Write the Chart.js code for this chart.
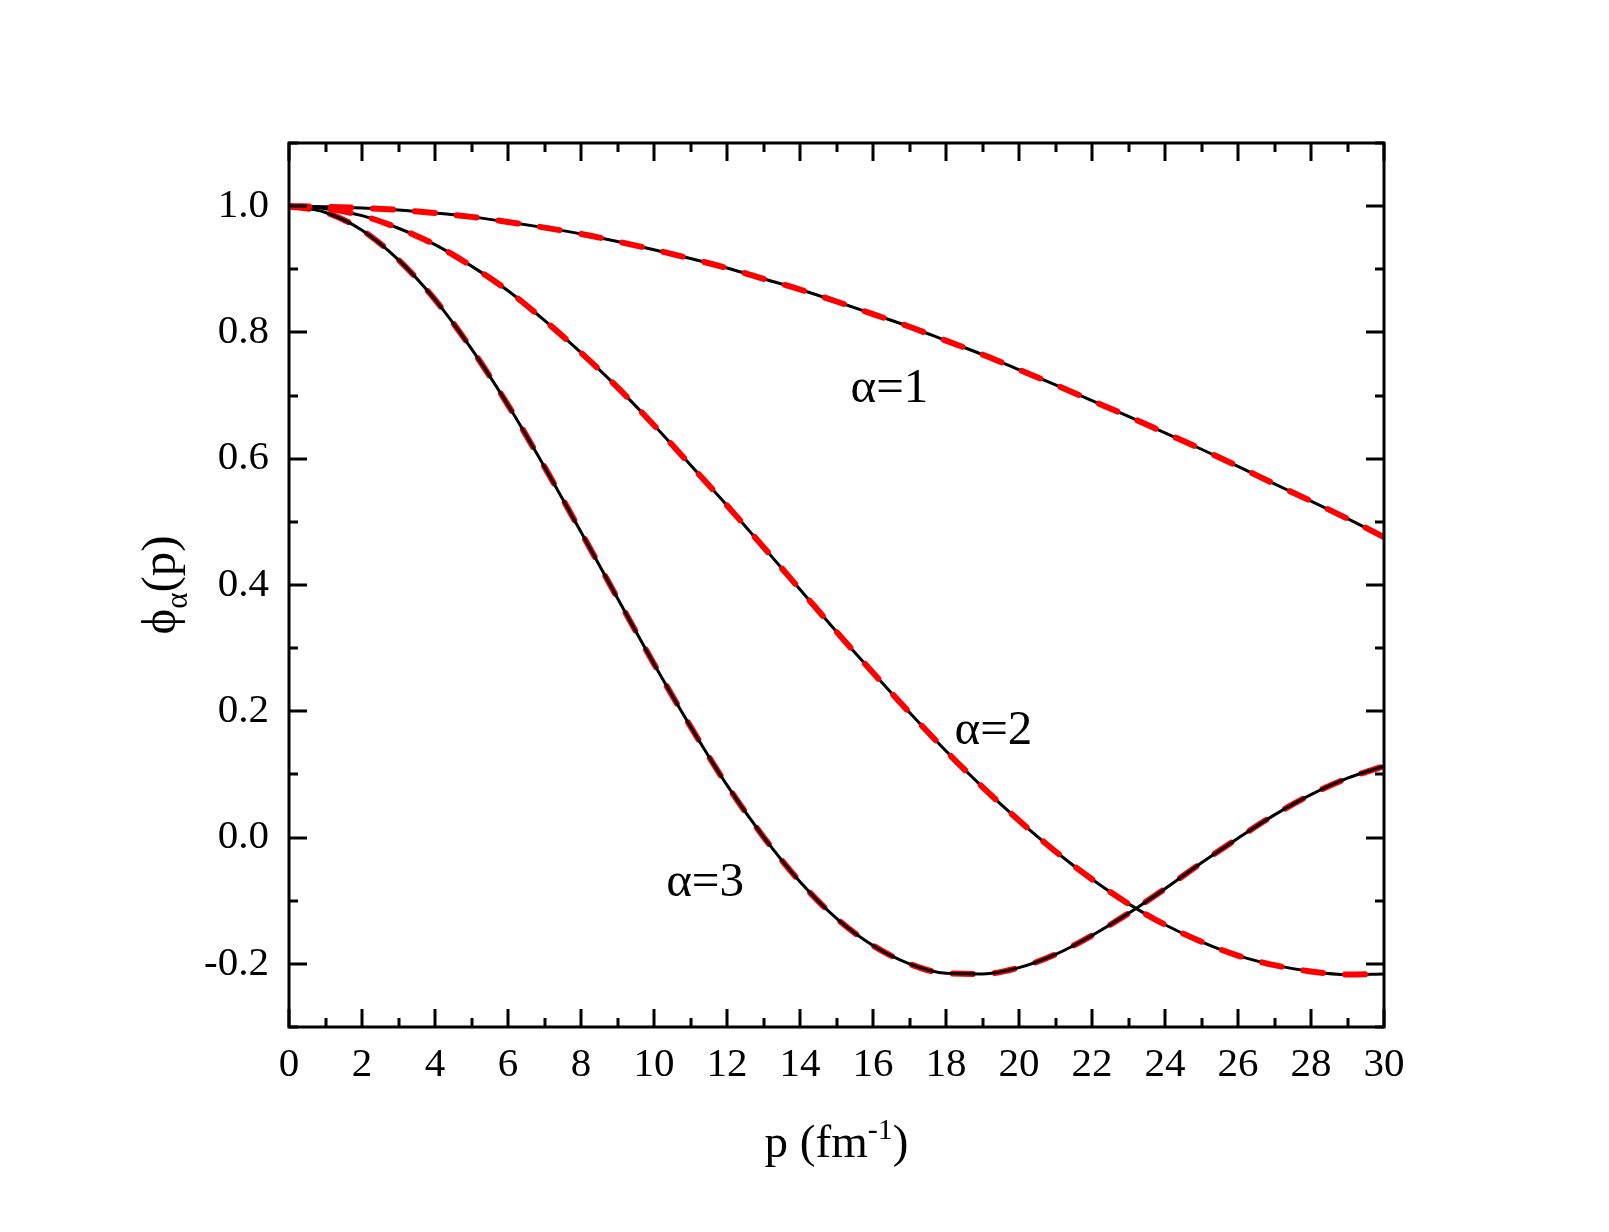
<!DOCTYPE html>
<html>
<head>
<meta charset="utf-8">
<script src="https://cdn.jsdelivr.net/npm/chart.js@4.4.1/dist/chart.umd.min.js"></script>
<style>
    html, body { margin: 0; padding: 0; background: #fff; }
    #wrap { width: 1609px; height: 1232px; }
</style>
</head>
<body>
<div id="wrap"><canvas id="phiChart" width="1609" height="1232"></canvas></div>
<script>
// momentum p (fm^-1)
const pValues = [0, 1, 2, 3, 4, 5, 6, 7, 8, 9, 10, 11, 12, 13, 14, 15, 16, 17, 18, 19, 20, 21, 22, 23, 24, 25, 26, 27, 28, 29, 30];

// phi_alpha(p)
const phiAlpha1 = [1.000, 0.999, 0.997, 0.994, 0.989, 0.983, 0.975, 0.966, 0.956, 0.944, 0.931, 0.917, 0.902, 0.885, 0.868, 0.849, 0.829, 0.809, 0.787, 0.765, 0.741, 0.717, 0.692, 0.667, 0.641, 0.615, 0.588, 0.560, 0.533, 0.505, 0.476];
const phiAlpha2 = [1.000, 0.996, 0.985, 0.965, 0.939, 0.905, 0.866, 0.819, 0.768, 0.713, 0.653, 0.590, 0.526, 0.460, 0.393, 0.326, 0.261, 0.198, 0.137, 0.080, 0.027, -0.022, -0.066, -0.105, -0.138, -0.165, -0.187, -0.202, -0.212, -0.217, -0.216];
const phiAlpha3 = [1.000, 0.990, 0.962, 0.915, 0.852, 0.774, 0.685, 0.587, 0.484, 0.379, 0.275, 0.176, 0.083, 0.001, -0.070, -0.128, -0.171, -0.200, -0.215, -0.216, -0.206, -0.185, -0.155, -0.120, -0.081, -0.040, -0.001, 0.036, 0.068, 0.094, 0.113];

const xTickValues = [0, 2, 4, 6, 8, 10, 12, 14, 16, 18, 20, 22, 24, 26, 28, 30];
const yTickValues = [-0.2, 0.0, 0.2, 0.4, 0.6, 0.8, 1.0];

const curveLabels = ['α=1', 'α=2', 'α=3'];

const serif = '"Liberation Serif", "Times New Roman", serif';

function toPoints(values) {
    return pValues.map((p, i) => ({ x: p, y: values[i] }));
}

const solid = (values) => ({
    data: toPoints(values),
    borderColor: '#000000',
    borderWidth: 3,
    pointRadius: 0,
    fill: false,
    cubicInterpolationMode: 'monotone'
});

const dashed = (values, width) => ({
    data: toPoints(values),
    borderColor: '#FF0000',
    borderWidth: width,
    borderDash: [20, 22],
    borderCapStyle: 'round',
    pointRadius: 0,
    fill: false,
    cubicInterpolationMode: 'monotone'
});

// frame with inward ticks on all four sides
const frameTicks = {
    id: 'frameTicks',
    afterDatasetsDraw(chart) {
        const { ctx, chartArea: a, scales: { x, y } } = chart;
        ctx.save();
        ctx.strokeStyle = '#000';
        ctx.lineWidth = 3;
        ctx.strokeRect(a.left, a.top, a.right - a.left, a.bottom - a.top);
        ctx.beginPath();
        for (let p = 0; p <= 30; p++) {
            const len = p % 2 === 0 ? 18 : 9;
            const px = Math.round(x.getPixelForValue(p));
            ctx.moveTo(px, a.bottom); ctx.lineTo(px, a.bottom - len);
            ctx.moveTo(px, a.top); ctx.lineTo(px, a.top + len);
        }
        for (let k = -3; k <= 11; k++) {
            const len = Math.abs(k) % 2 === 0 ? 18 : 9;
            const py = Math.round(y.getPixelForValue(k / 10));
            ctx.moveTo(a.left, py); ctx.lineTo(a.left + len, py);
            ctx.moveTo(a.right, py); ctx.lineTo(a.right - len, py);
        }
        ctx.stroke();
        ctx.restore();
    }
};

// axis titles with sub/superscripts and the curve labels
const annotations = {
    id: 'annotations',
    afterDraw(chart) {
        const { ctx, chartArea: a, scales: { x, y } } = chart;
        ctx.save();
        ctx.fillStyle = '#000';
        ctx.textBaseline = 'alphabetic';

        // x title: p (fm^-1)
        const big = '47px ' + serif, small = '30px ' + serif;
        ctx.font = big;
        const w1 = ctx.measureText('p (fm').width;
        const w3 = ctx.measureText(')').width;
        ctx.font = small;
        const w2 = ctx.measureText('-1').width;
        let cx = (a.left + a.right) / 2 - (w1 + w2 + w3) / 2;
        const by = 1157;
        ctx.textAlign = 'left';
        ctx.font = big; ctx.fillText('p (fm', cx, by); cx += w1;
        ctx.font = small; ctx.fillText('-1', cx, by - 18); cx += w2;
        ctx.font = big; ctx.fillText(')', cx, by);

        // y title: phi_alpha(p)
        ctx.save();
        ctx.translate(175, (a.top + a.bottom) / 2);
        ctx.rotate(-Math.PI / 2);
        const yb = '49px ' + serif, ys = '31px ' + serif;
        ctx.font = yb;
        const v1 = ctx.measureText('ϕ').width;
        const v3 = ctx.measureText('(p)').width;
        ctx.font = ys;
        const v2 = ctx.measureText('α').width;
        let tx = -(v1 + v2 + v3) / 2;
        ctx.font = yb; ctx.fillText('ϕ', tx, 0); tx += v1;
        ctx.font = ys; ctx.fillText('α', tx, 12); tx += v2;
        ctx.font = yb; ctx.fillText('(p)', tx, 0);
        ctx.restore();

        // curve labels
        ctx.font = '49px ' + serif;
        ctx.textAlign = 'center';
        const spots = [[16.45, 0.69], [19.3, 0.148], [11.4, -0.093]];
        curveLabels.forEach((t, i) => {
            ctx.fillText(t, x.getPixelForValue(spots[i][0]), y.getPixelForValue(spots[i][1]));
        });
        ctx.restore();
    }
};

const chart = new Chart(document.getElementById('phiChart').getContext('2d'), {
    type: 'line',
    data: {
        datasets: [
            dashed(phiAlpha1, 6),
            dashed(phiAlpha2, 6),
            solid(phiAlpha1),
            solid(phiAlpha2),
            solid(phiAlpha3),
            dashed(phiAlpha3, 6)
        ]
    },
    options: {
        responsive: false,
        animation: false,
        layout: { padding: { top: 143, right: 225, left: 0, bottom: 0 } },
        plugins: {
            legend: { display: false },
            tooltip: { enabled: false },
            title: { display: false }
        },
        scales: {
            x: {
                type: 'linear',
                min: 0,
                max: 30,
                afterBuildTicks: scale => { scale.ticks = xTickValues.map(v => ({ value: v })); },
                afterFit: scale => { scale.height = 205; },
                grid: { display: false, drawTicks: false },
                border: { display: false },
                ticks: {
                    color: '#000',
                    padding: 14,
                    maxRotation: 0,
                    font: { family: serif, size: 41 },
                    callback: value => String(value)
                }
            },
            y: {
                type: 'linear',
                min: -0.3,
                max: 1.1,
                afterBuildTicks: scale => { scale.ticks = yTickValues.map(v => ({ value: v })); },
                afterFit: scale => { scale.width = 289; },
                grid: { display: false, drawTicks: false },
                border: { display: false },
                ticks: {
                    color: '#000',
                    padding: 20,
                    font: { family: serif, size: 41 },
                    callback: value => Number(value).toFixed(1)
                }
            }
        }
    },
    plugins: [frameTicks, annotations]
});
</script>
</body>
</html>
